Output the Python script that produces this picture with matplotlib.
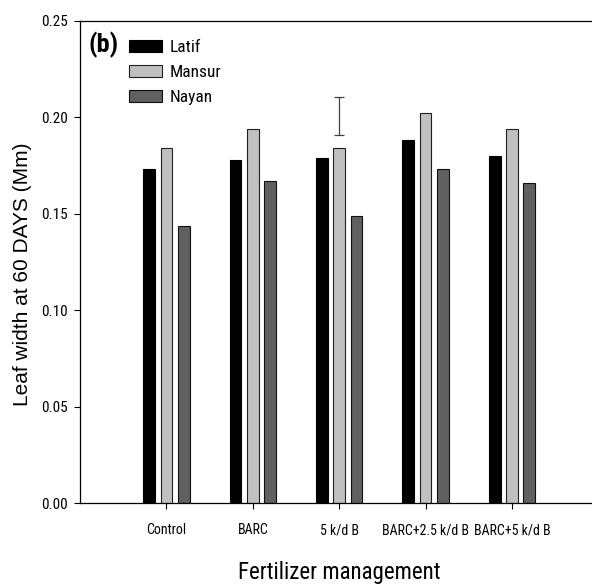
import numpy as np
import matplotlib.pyplot as plt

# leaf width (Mm) at 60 days, per fertilizer treatment
treatments = ["Control", "BARC", "5 k/d B", "BARC+2.5 k/d B", "BARC+5 k/d B"]
latif = [0.173, 0.178, 0.179, 0.188, 0.180]
mansur = [0.184, 0.194, 0.184, 0.202, 0.194]
nayan = [0.1435, 0.167, 0.149, 0.173, 0.166]

# the single error bar drawn above 5 k/d B (Mansur)
err_center = 0.2005
err_half = 0.0100

narrow = ["Roboto Condensed", "Liberation Sans Narrow", "Liberation Sans"]

fig = plt.figure(figsize=(5.92, 5.85), dpi=100)
ax = fig.add_axes([80 / 592, 81.7 / 585, 518.4 / 592, 482.8 / 585])

x = np.arange(len(treatments))
w = 0.135
step = 0.2
ax.bar(x - step, latif, w, color="black", edgecolor="black", linewidth=0.8, label="Latif")
ax.bar(x, mansur, w, color="#c0c0c0", edgecolor="#202020", linewidth=0.8, label="Mansur")
ax.bar(x + step, nayan, w, color="#606060", edgecolor="#101010", linewidth=0.8, label="Nayan")

ax.errorbar(x[2], err_center, yerr=err_half, fmt="none", ecolor="#404040",
            elinewidth=0.9, capsize=3.6, capthick=0.9)

ax.set_xlim(-1, 5)
ax.set_ylim(0, 0.25)
ax.set_yticks(np.arange(0, 0.26, 0.05))
ax.set_yticklabels([f"{v:.2f}" for v in np.arange(0, 0.26, 0.05)], family=narrow, fontsize=11)
ax.set_xticks(x)
ax.set_xticklabels(treatments, family=narrow, fontsize=10)
ax.tick_params(axis="y", direction="out", length=4, width=0.8, pad=5)
ax.tick_params(axis="x", direction="out", length=4.5, width=0.8, pad=10)
for s in ax.spines.values():
    s.set_linewidth(0.9)

ax.set_xlabel("Fertilizer management", family=narrow, fontsize=16.5, labelpad=17)
ax.set_ylabel("Leaf width at 60 DAYS (Mm)", family=["Liberation Sans", "DejaVu Sans"],
              fontsize=15)
ax.yaxis.set_label_coords(-0.092, 0.475)

leg = ax.legend(loc="upper left", bbox_to_anchor=(120 / 592, 1 - 31 / 585),
                bbox_transform=fig.transFigure, frameon=False, borderpad=0,
                handlelength=1.9, handleheight=0.75, handletextpad=0.45,
                labelspacing=0.55, prop={"family": narrow, "size": 12.5})

fig.text(88 / 592, 1 - 45 / 585, "(b)", family=narrow, fontsize=19,
         fontweight="bold", ha="left", va="center")

fig.savefig("out.png", dpi=100)
